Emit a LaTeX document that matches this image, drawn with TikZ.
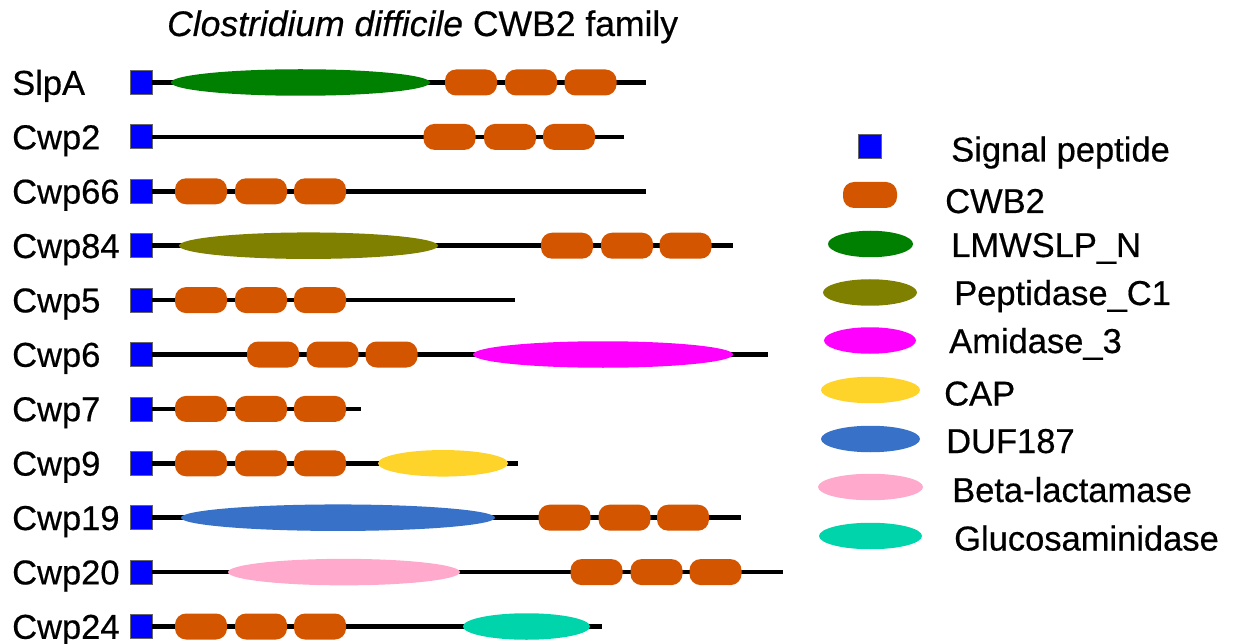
\documentclass[tikz,border=0pt]{standalone}
\usepackage{fontspec}
\setmainfont[FakeBold=0.5]{Liberation Sans}
\usetikzlibrary{shapes.geometric}
\definecolor{cwbcol}{HTML}{D45500}
\definecolor{lmwcol}{HTML}{008000}
\definecolor{pepcol}{HTML}{808000}
\definecolor{amicol}{HTML}{FF00FF}
\definecolor{capcol}{HTML}{FFD42A}
\definecolor{dufcol}{HTML}{3771C8}
\definecolor{betcol}{HTML}{FFAACC}
\definecolor{glucol}{HTML}{00D4AA}
\definecolor{sigcol}{HTML}{0000FF}
\tikzset{
  lbl/.style={anchor=base west, inner sep=0, font=\fontsize{34.5}{40}\selectfont},
  sigbox/.style={rectangle, fill=sigcol, draw=black!60, line width=0.8pt, minimum width=22pt, minimum height=24pt, inner sep=0},
  pill/.style={rectangle, rounded corners=11pt, fill=cwbcol, minimum width=52pt, minimum height=26pt, inner sep=0},
  dom/.style={ellipse, inner sep=0, minimum height=26.5pt},
  backbone/.style={line width=4.5pt, black}
}
\begin{document}
\begin{tikzpicture}[x=1pt,y=-1pt]
\useasboundingbox (0,0) rectangle (1234,644);
\fill[white] (0,0) rectangle (1234,644);
% title
\node[lbl, font=\fontsize{35.5}{40}\selectfont] (title) at (167,36) {\itshape Clostridium difficile\upshape{} CWB2 family};

% ---------- SlpA (y=82.5)
\node[lbl] (lSlpA) at (12,94.8) {SlpA};
\node[sigbox] (sSlpA) at (141,82.5) {};
\coordinate (eSlpA) at (646,82.5);
\draw[backbone] (sSlpA.east) -- (eSlpA);
\node[dom, fill=lmwcol, minimum width=259pt] (dSlpA) at (300.5,82.5) {};
\node[pill] (pSlpA1) at (471,82.5) {};
\node[pill] (pSlpA2) at (531,82.5) {};
\node[pill] (pSlpA3) at (590.5,82.5) {};

% ---------- Cwp2 (y=136.9)
\node[lbl] (lCwp2) at (12,149.2) {Cwp2};
\node[sigbox] (sCwp2) at (141,136.9) {};
\coordinate (eCwp2) at (624,136.9);
\draw[backbone] (sCwp2.east) -- (eCwp2);
\node[pill] (pCwp2a) at (449.5,136.9) {};
\node[pill] (pCwp2b) at (510,136.9) {};
\node[pill] (pCwp2c) at (569,136.9) {};

% ---------- Cwp66 (y=191.3)
\node[lbl] (lCwp66) at (12,203.6) {Cwp66};
\node[sigbox] (sCwp66) at (141,191.3) {};
\coordinate (eCwp66) at (646,191.3);
\draw[backbone] (sCwp66.east) -- (eCwp66);
\node[pill] (pCwp66a) at (201,191.3) {};
\node[pill] (pCwp66b) at (261,191.3) {};
\node[pill] (pCwp66c) at (320,191.3) {};

% ---------- Cwp84 (y=245.7)
\node[lbl] (lCwp84) at (12,258) {Cwp84};
\node[sigbox] (sCwp84) at (141,245.7) {};
\coordinate (eCwp84) at (733,245.7);
\draw[backbone] (sCwp84.east) -- (eCwp84);
\node[dom, fill=pepcol, minimum width=259pt] (dCwp84) at (308.5,245.7) {};
\node[pill] (pCwp84a) at (567,245.7) {};
\node[pill] (pCwp84b) at (627,245.7) {};
\node[pill] (pCwp84c) at (685.5,245.7) {};

% ---------- Cwp5 (y=300.1)
\node[lbl] (lCwp5) at (12,312.4) {Cwp5};
\node[sigbox] (sCwp5) at (141,300.1) {};
\coordinate (eCwp5) at (515,300.1);
\draw[backbone] (sCwp5.east) -- (eCwp5);
\node[pill] (pCwp5a) at (201,300.1) {};
\node[pill] (pCwp5b) at (261,300.1) {};
\node[pill] (pCwp5c) at (320,300.1) {};

% ---------- Cwp6 (y=354.5)
\node[lbl] (lCwp6) at (12,366.8) {Cwp6};
\node[sigbox] (sCwp6) at (141,354.5) {};
\coordinate (eCwp6) at (768,354.5);
\draw[backbone] (sCwp6.east) -- (eCwp6);
\node[pill] (pCwp6a) at (273,354.5) {};
\node[pill] (pCwp6b) at (332.5,354.5) {};
\node[pill] (pCwp6c) at (391.5,354.5) {};
\node[dom, fill=amicol, minimum width=260pt] (dCwp6) at (603,354.5) {};

% ---------- Cwp7 (y=408.9)
\node[lbl] (lCwp7) at (12,421.2) {Cwp7};
\node[sigbox] (sCwp7) at (141,408.9) {};
\coordinate (eCwp7) at (361,408.9);
\draw[backbone] (sCwp7.east) -- (eCwp7);
\node[pill] (pCwp7a) at (201,408.9) {};
\node[pill] (pCwp7b) at (261,408.9) {};
\node[pill] (pCwp7c) at (320,408.9) {};

% ---------- Cwp9 (y=463.3)
\node[lbl] (lCwp9) at (12,475.6) {Cwp9};
\node[sigbox] (sCwp9) at (141,463.3) {};
\coordinate (eCwp9) at (518,463.3);
\draw[backbone] (sCwp9.east) -- (eCwp9);
\node[pill] (pCwp9a) at (201,463.3) {};
\node[pill] (pCwp9b) at (261,463.3) {};
\node[pill] (pCwp9c) at (320,463.3) {};
\node[dom, fill=capcol, minimum width=130pt] (dCwp9) at (443,463.3) {};

% ---------- Cwp19 (y=517.7)
\node[lbl] (lCwp19) at (12,530) {Cwp19};
\node[sigbox] (sCwp19) at (141,517.7) {};
\coordinate (eCwp19) at (741,517.7);
\draw[backbone] (sCwp19.east) -- (eCwp19);
\node[dom, fill=dufcol, minimum width=314pt] (dCwp19) at (338,517.7) {};
\node[pill] (pCwp19a) at (564.5,517.7) {};
\node[pill] (pCwp19b) at (624.5,517.7) {};
\node[pill] (pCwp19c) at (683,517.7) {};

% ---------- Cwp20 (y=572.1)
\node[lbl] (lCwp20) at (12,584.4) {Cwp20};
\node[sigbox] (sCwp20) at (141,572.1) {};
\coordinate (eCwp20) at (783,572.1);
\draw[backbone] (sCwp20.east) -- (eCwp20);
\node[dom, fill=betcol, minimum width=232pt] (dCwp20) at (344,572.1) {};
\node[pill] (pCwp20a) at (596.5,572.1) {};
\node[pill] (pCwp20b) at (656.5,572.1) {};
\node[pill] (pCwp20c) at (715.5,572.1) {};

% ---------- Cwp24 (y=626.5)
\node[lbl] (lCwp24) at (12,638.8) {Cwp24};
\node[sigbox] (sCwp24) at (141,626.5) {};
\coordinate (eCwp24) at (602,626.5);
\draw[backbone] (sCwp24.east) -- (eCwp24);
\node[pill] (pCwp24a) at (201,626.5) {};
\node[pill] (pCwp24b) at (261,626.5) {};
\node[pill] (pCwp24c) at (320,626.5) {};
\node[dom, fill=glucol, minimum width=127pt] (dCwp24) at (526.5,626.5) {};

% ---------- legend
\node[sigbox, minimum width=23pt] (kSig) at (870,146.5) {};
\node[lbl] (tSig) at (951,161.5) {Signal peptide};
\node[pill, minimum width=54pt] (kCwb) at (870,195) {};
\node[lbl] (tCwb) at (945,213) {CWB2};
\node[dom, fill=lmwcol, minimum width=85pt] (kLmw) at (870.5,244) {};
\node[lbl] (tLmw) at (951,257) {LMWSLP\_N};
\node[dom, fill=pepcol, minimum width=94pt] (kPep) at (870,292.5) {};
\node[lbl] (tPep) at (954,305) {Peptidase\_C1};
\node[dom, fill=amicol, minimum width=92pt] (kAmi) at (870,340.5) {};
\node[lbl] (tAmi) at (949,353) {Amidase\_3};
\node[dom, fill=capcol, minimum width=99pt] (kCap) at (870.5,390) {};
\node[lbl] (tCap) at (944,405.5) {CAP};
\node[dom, fill=dufcol, minimum width=99pt] (kDuf) at (870.5,439) {};
\node[lbl] (tDuf) at (946,453) {DUF187};
\node[dom, fill=betcol, minimum width=105pt] (kBet) at (870.5,487) {};
\node[lbl] (tBet) at (952,502) {Beta-lactamase};
\node[dom, fill=glucol, minimum width=103pt] (kGlu) at (870.5,536) {};
\node[lbl] (tGlu) at (954,550.5) {Glucosaminidase};
\end{tikzpicture}
\end{document}
